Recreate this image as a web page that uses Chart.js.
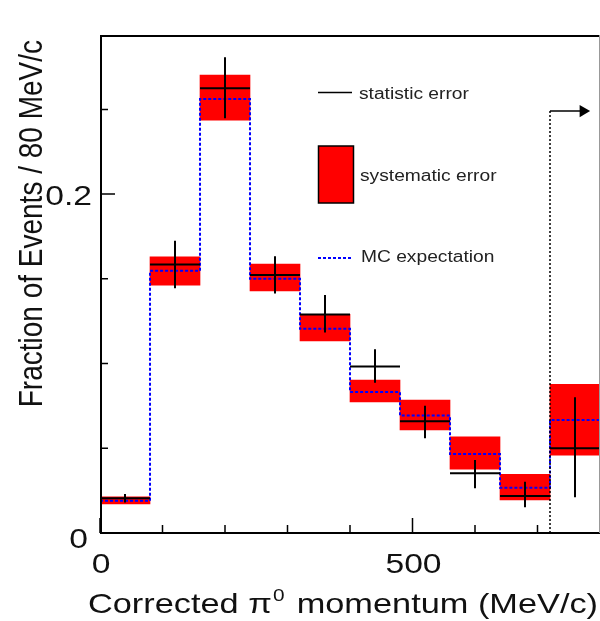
<!DOCTYPE html>
<html>
<head>
<meta charset="utf-8">
<script src="https://cdn.jsdelivr.net/npm/chart.js@4"></script>
<style>
  html, body { margin: 0; padding: 0; background: #fff; }
  canvas { display: block; }
</style>
</head>
<body>
<canvas id="momentumChart" width="600" height="621"></canvas>
<script>
// 80 MeV/c bins, the last one is the overflow bin (>720)
const binLow  = [0, 80, 160, 240, 320, 400, 480, 560, 640, 720];
const binHigh = [80, 160, 240, 320, 400, 480, 560, 640, 720, 800];

const dataVal = [0.0205, 0.1585, 0.2625, 0.1522, 0.1290, 0.0983, 0.0659, 0.0352, 0.0218, 0.0500];
const statLo  = [0.0180, 0.1444, 0.2447, 0.1414, 0.1184, 0.0887, 0.0559, 0.0264, 0.0152, 0.0211];
const statHi  = [0.0230, 0.1725, 0.2807, 0.1634, 0.1404, 0.1084, 0.0751, 0.0431, 0.0303, 0.0801];
const sysLo   = [0.0171, 0.1463, 0.2437, 0.1428, 0.1133, 0.0773, 0.0608, 0.0376, 0.0195, 0.0460];
const sysHi   = [0.0214, 0.1630, 0.2702, 0.1587, 0.1290, 0.0903, 0.0785, 0.0568, 0.0346, 0.0877];
const mcVal   = [0.0191, 0.1548, 0.2562, 0.1500, 0.1205, 0.0832, 0.0694, 0.0466, 0.0267, 0.0667];

// overflow marker
const overflowEdge = 720;
const overflowTop = 0.249;
const arrowEnd = 773;

const xMajorTicks = [0, 500];
const xMinorTicks = [100, 200, 300, 400, 600, 700];
const xTickLabels = ['0', '500'];
const yMajorTicks = [0, 0.2];
const yMinorTicks = [0.05, 0.1, 0.15, 0.25];
const yTickLabels = ['0', '0.2'];

const xTitle = ['Corrected \u03c0', '0', ' momentum (MeV/c)'];
const yTitle = 'Fraction of Events / 80 MeV/c';
const legendLabels = ['statistic error', 'systematic error', 'MC expectation'];

// build datasets from the arrays
const sysBoxes = binLow.map((lo, i) => ({ x: (lo + binHigh[i]) / 2, y: [sysLo[i], sysHi[i]] }));

const dataSegments = [];
const statSegments = [];
binLow.forEach((lo, i) => {
  const c = (lo + binHigh[i]) / 2;
  dataSegments.push({ x: lo, y: dataVal[i] }, { x: binHigh[i], y: dataVal[i] }, { x: binHigh[i], y: null });
  statSegments.push({ x: c, y: statLo[i] }, { x: c, y: statHi[i] }, { x: c, y: null });
});

const mcSteps = binLow.map((lo, i) => ({ x: lo, y: mcVal[i] }));
mcSteps.push({ x: binHigh[binHigh.length - 1], y: mcVal[mcVal.length - 1] });

const textStretch = 1.2;
const FONT = '"Liberation Sans", Arial, sans-serif';

function stretchedText(ctx, str, x, y, align) {
  ctx.save();
  ctx.translate(x, y);
  ctx.scale(textStretch, 1);
  ctx.textAlign = align;
  ctx.fillText(str, 0, 0);
  ctx.restore();
}

// ROOT style frame, inward ticks, labels and legend
const rootFrame = {
  id: 'rootFrame',
  afterDatasetsDraw(chart) {
    const ctx = chart.ctx;
    const a = chart.chartArea;
    const xs = chart.scales.x;
    const ys = chart.scales.y;

    ctx.save();
    ctx.strokeStyle = '#000';
    ctx.lineWidth = 2;
    ctx.beginPath();
    ctx.moveTo(a.right, a.top + 1);
    ctx.lineTo(a.left + 1, a.top + 1);
    ctx.lineTo(a.left + 1, a.bottom);
    ctx.lineTo(a.right, a.bottom);
    ctx.stroke();
    ctx.strokeStyle = '#999';
    ctx.lineWidth = 1;
    ctx.beginPath();
    ctx.moveTo(a.right - 0.5, a.top);
    ctx.lineTo(a.right - 0.5, a.bottom);
    ctx.stroke();

    ctx.strokeStyle = '#000';
    ctx.lineWidth = 1.5;
    ctx.beginPath();
    xMajorTicks.forEach(v => { const px = xs.getPixelForValue(v); ctx.moveTo(px, a.bottom); ctx.lineTo(px, a.bottom - 15); });
    xMinorTicks.forEach(v => { const px = xs.getPixelForValue(v); ctx.moveTo(px, a.bottom); ctx.lineTo(px, a.bottom - 8); });
    yMajorTicks.forEach(v => { const py = ys.getPixelForValue(v); ctx.moveTo(a.left, py); ctx.lineTo(a.left + 15, py); });
    yMinorTicks.forEach(v => { const py = ys.getPixelForValue(v); ctx.moveTo(a.left, py); ctx.lineTo(a.left + 8, py); });
    ctx.stroke();

    // tick labels
    ctx.fillStyle = '#111';
    ctx.font = '28px ' + FONT;
    ctx.textBaseline = 'alphabetic';
    xMajorTicks.forEach((v, i) => stretchedText(ctx, xTickLabels[i], xs.getPixelForValue(v) + 1, a.bottom + 40, 'center'));
    yMajorTicks.forEach((v, i) => stretchedText(ctx, yTickLabels[i], a.left - (v === 0 ? 12 : 8), ys.getPixelForValue(v) + (v === 0 ? 15 : 11), 'right'));

    // x title with superscript, squeezed to span 88..598
    const big = '28px ' + FONT, small = '17px ' + FONT;
    ctx.font = big;
    const w0 = ctx.measureText(xTitle[0]).width;
    const w2 = ctx.measureText(xTitle[2]).width;
    ctx.font = small;
    const w1 = ctx.measureText(xTitle[1]).width + 3;
    const sx = 510 / (w0 + w1 + w2);
    ctx.save();
    ctx.translate(88, 613);
    ctx.scale(sx, 1);
    ctx.textAlign = 'left';
    ctx.font = big;
    ctx.fillText(xTitle[0], 0, 0);
    ctx.font = small;
    ctx.fillText(xTitle[1], w0 + 1, -12);
    ctx.font = big;
    ctx.fillText(xTitle[2], w0 + w1, 0);
    ctx.restore();

    // y title, rotated, aligned to top
    ctx.save();
    ctx.font = '28px ' + FONT;
    ctx.translate(42, a.top + 5);
    ctx.scale(textStretch, 1);
    ctx.rotate(-Math.PI / 2);
    ctx.textAlign = 'right';
    ctx.fillText(yTitle, 0, 0);
    ctx.restore();

    // legend
    ctx.font = '16px ' + FONT;
    ctx.textBaseline = 'middle';
    ctx.fillStyle = '#222';
    ctx.strokeStyle = '#000';
    ctx.lineWidth = 1.5;
    ctx.beginPath();
    ctx.moveTo(318, 92.5);
    ctx.lineTo(352, 92.5);
    ctx.stroke();
    stretchedText(ctx, legendLabels[0], 359, 95, 'left');

    ctx.fillStyle = '#ff0000';
    ctx.fillRect(318.5, 146, 35, 57);
    ctx.strokeRect(318.5, 146, 35, 57);
    ctx.fillStyle = '#222';
    stretchedText(ctx, legendLabels[1], 360, 177, 'left');

    ctx.strokeStyle = '#0000ff';
    ctx.lineWidth = 2;
    ctx.setLineDash([3, 2]);
    ctx.beginPath();
    ctx.moveTo(318, 258);
    ctx.lineTo(352, 258);
    ctx.stroke();
    ctx.setLineDash([]);
    stretchedText(ctx, legendLabels[2], 361, 258, 'left');
    ctx.restore();
  }
};

new Chart(document.getElementById('momentumChart'), {
  type: 'bar',
  data: {
    datasets: [
      {
        type: 'bar',
        data: sysBoxes,
        backgroundColor: '#ff0000',
        borderWidth: 0,
        barPercentage: 1,
        categoryPercentage: 1,
        order: 6
      },
      {
        type: 'line',
        data: mcSteps,
        borderColor: '#0000ff',
        borderWidth: 2,
        borderDash: [3, 2],
        stepped: 'before',
        pointRadius: 0,
        fill: false,
        order: 5
      },
      {
        type: 'line',
        data: dataSegments,
        borderColor: '#000',
        borderWidth: 2,
        pointRadius: 0,
        spanGaps: false,
        fill: false,
        order: 4
      },
      {
        type: 'line',
        data: statSegments,
        borderColor: '#000',
        borderWidth: 2,
        pointRadius: 0,
        spanGaps: false,
        fill: false,
        order: 3
      },
      {
        type: 'line',
        data: [{ x: overflowEdge, y: 0 }, { x: overflowEdge, y: overflowTop }],
        borderColor: '#000',
        borderWidth: 1.5,
        borderDash: [2, 2],
        pointRadius: 0,
        fill: false,
        order: 2
      },
      {
        type: 'line',
        data: [{ x: overflowEdge, y: overflowTop }, { x: arrowEnd, y: overflowTop }],
        borderColor: '#000',
        borderWidth: 1.5,
        pointRadius: [0, 7],
        pointStyle: 'triangle',
        rotation: 90,
        pointBackgroundColor: '#000',
        pointBorderWidth: 0,
        fill: false,
        order: 1
      }
    ]
  },
  options: {
    responsive: false,
    animation: false,
    events: [],
    layout: { autoPadding: false, padding: { top: 35, right: 0, left: 0, bottom: 0 } },
    plugins: { legend: { display: false }, tooltip: { enabled: false } },
    scales: {
      x: {
        type: 'linear',
        min: 0,
        max: 800,
        offset: false,
        grid: { display: false, drawTicks: false },
        border: { display: false },
        ticks: { display: false },
        afterFit: s => { s.height = 88; }
      },
      y: {
        type: 'linear',
        min: 0,
        max: 0.2939,
        grid: { display: false, drawTicks: false },
        border: { display: false },
        ticks: { display: false },
        afterFit: s => { s.width = 100; }
      }
    }
  },
  plugins: [rootFrame]
});
</script>
</body>
</html>
